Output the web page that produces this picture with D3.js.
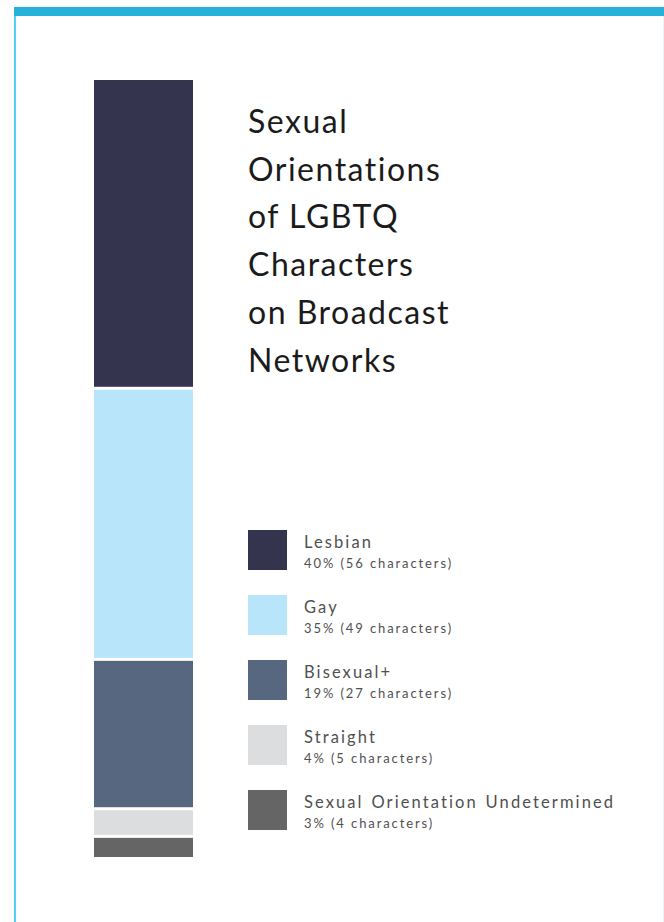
<!DOCTYPE html>
<html><head><meta charset="utf-8">
<script src="https://cdn.jsdelivr.net/npm/d3@7"></script>
<style>html,body{margin:0;padding:0;background:#fff;}svg{display:block;}</style>
</head><body>
<script>
const categories = ["Lesbian","Gay","Bisexual+","Straight","Sexual Orientation Undetermined"];
const counts = [56,49,27,5,4];
const percents = [40,35,19,4,3];
const colors = ["#35344f","#b9e5fa","#56677f","#dcdddf","#656565"];
const titleLines = ["Sexual","Orientations","of LGBTQ","Characters","on Broadcast","Networks"];

const W=664,H=922;
const svg=d3.select("body").append("svg").attr("width",W).attr("height",H);

// frame
svg.append("rect").attr("x",14).attr("y",7).attr("width",2).attr("height",H-7).attr("fill","#55cff2");
svg.append("rect").attr("x",663).attr("y",16).attr("width",1).attr("height",H-16).attr("fill","#eef3f5");
svg.append("rect").attr("x",14).attr("y",7).attr("width",W-14).attr("height",9).attr("fill","#26b1db");

// stacked bar
const total=d3.sum(counts);
const y=d3.scaleLinear().domain([0,total]).range([80,860]);
const x=d3.scaleBand().domain(["all"]).range([94,193]).padding(0);
let cum=0;
const stack=counts.map((c,i)=>{const s={i,start:cum,end:cum+c};cum+=c;return s;});
svg.selectAll("rect.seg").data(stack).enter().append("rect").attr("class","seg")
  .attr("x",x("all")).attr("width",x.bandwidth())
  .attr("y",d=>y(d.start)).attr("height",d=>y(d.end)-y(d.start)-3)
  .attr("fill",d=>colors[d.i]);

// title
const title=svg.append("text").attr("x",248).attr("y",133)
  .attr("font-family","Lato, 'Noto Sans', sans-serif").attr("font-size",32).attr("font-weight",400)
  .attr("letter-spacing",1.5).attr("fill","#1b1b1b");
titleLines.forEach((t,i)=>title.append("tspan").attr("x",248).attr("y",133+i*47.7).text(t));

// legend
const lg=svg.selectAll("g.leg").data(categories).enter().append("g").attr("class","leg")
  .attr("transform",(d,i)=>`translate(248,${530+i*65})`);
lg.append("rect").attr("width",39).attr("height",40).attr("fill",(d,i)=>colors[i]);
lg.append("text").attr("x",56).attr("y",18).attr("font-family","Lato, sans-serif").attr("font-size",16.5)
  .attr("letter-spacing",2.1).attr("word-spacing",1.5).attr("fill","#505050").text(d=>d);
lg.append("text").attr("x",56).attr("y",38).attr("font-family","Lato, sans-serif").attr("font-size",13)
  .attr("letter-spacing",1.9).attr("fill","#505050").text((d,i)=>`${percents[i]}% (${counts[i]} characters)`);
</script>
</body></html>
